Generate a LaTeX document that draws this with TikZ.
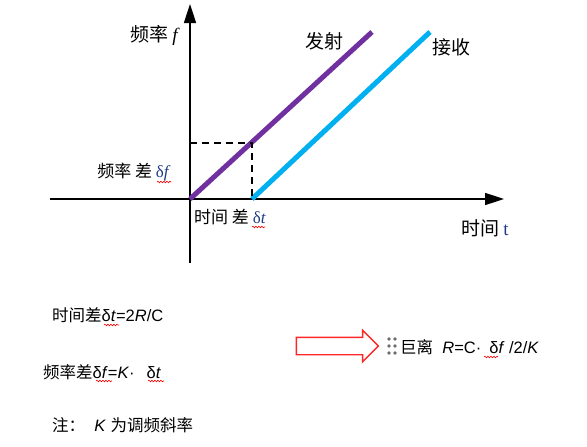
\documentclass[tikz,border=0pt]{standalone}
\usepackage{fontspec}
\setmainfont{Liberation Sans}
\newfontfamily\cjk{Noto Sans CJK SC}
\newfontfamily\tnr{Liberation Serif}
\usetikzlibrary{arrows.meta,decorations.pathmorphing,shapes.arrows}
\definecolor{sendcol}{HTML}{7030A0}
\definecolor{recvcol}{HTML}{00B0F0}
\definecolor{navy}{HTML}{1F3C88}
\tikzset{
	axis/.style={line width=1.6pt,-{Triangle[length=19pt,width=12pt]}},
	ramp/.style={line width=5pt},
	lbl/.style={inner sep=0pt,font=\cjk\fontsize{19}{21}\selectfont},
	small/.style={inner sep=0pt,font=\cjk\fontsize{17}{19}\selectfont},
	eqn/.style={inner sep=0pt,anchor=west,font=\fontsize{16.5}{18}\selectfont},
	spell/.style={red,line width=0.6pt,decorate,
		decoration={snake,amplitude=0.8pt,segment length=3pt}},
	grip/.style={circle,fill=gray!85!black,inner sep=0pt,minimum size=3.6pt}
}
\newcommand{\dlt}[1]{{\tnr\color{navy}δ\textit{#1}}}
\begin{document}
\begin{tikzpicture}[x=1pt,y=-1pt]
	\useasboundingbox (0,0) rectangle (587,447);
	% axes
	\coordinate (O) at (190,199);
	\coordinate (xs) at (50,199);
	\coordinate (xe) at (504,199);
	\coordinate (ys) at (190,263);
	\coordinate (ye) at (190,4);
	\draw[axis] (xs) -- (xe);
	\draw[axis] (ys) -- (ye);
	
	% ramps
	\coordinate (T0) at (190,199);
	\coordinate (T1) at (372,32);
	\coordinate (R0) at (252,199);
	\coordinate (R1) at (430,32);
	\coordinate (M) at (252,143);
	\coordinate (Mf) at (190,143);
	\draw[ramp,sendcol] (T0) -- (T1);
	\draw[ramp,recvcol] (R0) -- (R1);
	\draw[black,line width=1.6pt,dash pattern=on 7pt off 5pt] (Mf) -- (M) -- (R0);
	
	% labels
	\node[lbl] (fa) at (154,35) {频率 {\tnr\itshape f}};
	\node[lbl] (tx) at (324,41) {发射};
	\node[lbl] (rx) at (451,47) {接收};
	\node[lbl] (ta) at (485,228) {时间 {\tnr\color{navy}t}};
	\node[small] (df) at (134,172) {频率 差 \dlt{f}};
	\node[small] (dt) at (230,217) {时间 差 \dlt{t}};
	\draw[spell] (157,182) -- (171,182);
	\draw[spell] (252,227) -- (265,227);
	
	% formulas
	\node[eqn] (e1) at (52,315) {{\cjk 时间差}δ\textit{t}=2\textit{R}/C};
	\node[eqn] (e2) at (43,372) {{\cjk 频率差}δ\textit{f}=\textit{K}·\hspace{12pt}δ\textit{t}};
	\node[eqn] (e3) at (52,425) {{\cjk 注：}\ \ \textit{K} {\cjk 为调频斜率}};
	\draw[spell] (104,325) -- (119,325);
	\draw[spell] (96,381) -- (112,381);
	\draw[spell] (148,381) -- (164,381);
	
	% result
	\node[single arrow,draw=red!85,line width=1.4pt,fill=white,
		inner sep=8pt,single arrow head extend=7pt,
		minimum height=82pt] (go) at (333,346) {};
	\foreach \i in {0,1,2} {
		\node[grip] at (389,339+7*\i) {};
		\node[grip] at (395,339+7*\i) {};
	}
	\node[eqn] (res) at (400,347)
		{{\cjk 巨离}\ \ \textit{R}=C·\hspace{8pt}δ\textit{f} /2/\textit{K}};
	\draw[spell] (484,357) -- (498,357);
\end{tikzpicture}
\end{document}
